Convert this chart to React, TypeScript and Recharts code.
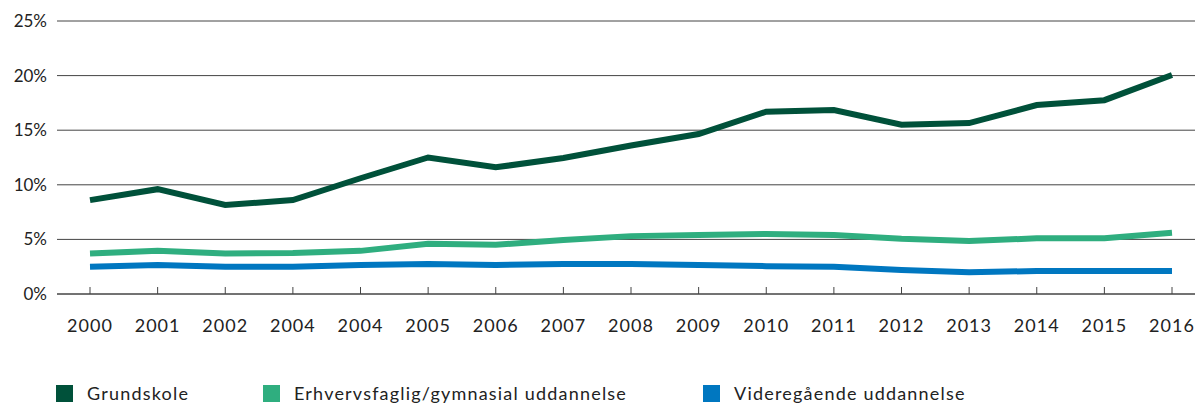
import React from 'react';
import { LineChart, Line, XAxis, YAxis, CartesianGrid } from 'recharts';

const years = ['2000', '2001', '2002', '2004', '2004', '2005', '2006', '2007', '2008', '2009', '2010', '2011', '2012', '2013', '2014', '2015', '2016'];
const grundskole = [8.6, 9.6, 8.15, 8.6, 10.6, 12.5, 11.6, 12.45, 13.6, 14.65, 16.7, 16.85, 15.5, 15.65, 17.3, 17.75, 20.05];
const erhvervsfaglig = [3.7, 3.95, 3.7, 3.75, 3.95, 4.6, 4.5, 4.95, 5.3, 5.4, 5.5, 5.4, 5.05, 4.85, 5.1, 5.1, 5.6];
const videregaaende = [2.5, 2.65, 2.5, 2.5, 2.65, 2.75, 2.65, 2.75, 2.75, 2.65, 2.55, 2.5, 2.2, 2.0, 2.1, 2.1, 2.1];
const yTicks = [0, 5, 10, 15, 20, 25];

const series = [
  { key: 'grundskole', name: 'Grundskole', color: '#00513a', left: 56 },
  { key: 'erhvervsfaglig', name: 'Erhvervsfaglig/gymnasial uddannelse', color: '#2fae7f', left: 263 },
  { key: 'videregaaende', name: 'Videregående uddannelse', color: '#0077c0', left: 703 },
];

const data = years.map((year, i) => ({
  idx: i,
  year,
  grundskole: grundskole[i],
  erhvervsfaglig: erhvervsfaglig[i],
  videregaaende: videregaaende[i],
}));

const FONT = 'Lato, "Open Sans", sans-serif';

function YearTick(props: any) {
  const { x, y, payload } = props;
  return (
    <g>
      <line x1={x} x2={x} y1={y - 7} y2={y} stroke="#444" strokeWidth={1} />
      <text x={x} y={y + 38} textAnchor="middle" fill="#222" fontSize={18} fontFamily={FONT} letterSpacing={1}>
        {years[payload.value]}
      </text>
    </g>
  );
}

export default function App() {
  return (
    <div style={{ position: 'absolute', left: 0, top: 0, width: 1195, height: 403, background: '#fff' }}>
      <LineChart width={1195} height={345} data={data} margin={{ top: 21, right: 0, left: 0, bottom: 0 }}>
        <CartesianGrid vertical={false} stroke="#444" strokeDasharray="" />
        <XAxis
          dataKey="idx"
          type="category"
          height={51}
          padding={{ left: 33, right: 23 }}
          axisLine={{ stroke: '#444' }}
          tickLine={false}
          tickSize={0}
          tickMargin={0}
          interval={0}
          tick={<YearTick />}
        />
        <YAxis
          width={57}
          domain={[0, 25]}
          ticks={yTicks}
          axisLine={false}
          tickLine={false}
          tickSize={0}
          tickMargin={10}
          tickFormatter={(v) => `${v}%`}
          tick={{ fontSize: 17, fill: '#222', fontFamily: FONT }}
        />
        {series.map((s) => (
          <Line
            key={s.key}
            type="linear"
            dataKey={s.key}
            name={s.name}
            stroke={s.color}
            strokeWidth={6}
            dot={false}
            activeDot={false}
            isAnimationActive={false}
          />
        ))}
      </LineChart>
      {series.map((s) => (
        <div
          key={s.key}
          style={{ position: 'absolute', left: s.left, top: 385, display: 'flex', alignItems: 'center', height: 17 }}
        >
          <div style={{ width: 17, height: 17, background: s.color }} />
          <span
            style={{ marginLeft: 14, fontFamily: FONT, fontSize: 18, color: '#222', letterSpacing: 1.2, lineHeight: '17px', whiteSpace: 'nowrap' }}
          >
            {s.name}
          </span>
        </div>
      ))}
    </div>
  );
}
